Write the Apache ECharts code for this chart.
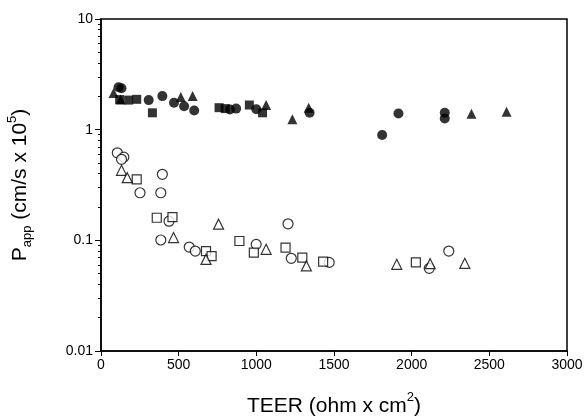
<!DOCTYPE html>
<html>
<head>
<meta charset="utf-8">
<script src="https://cdn.jsdelivr.net/npm/echarts@6/dist/echarts.min.js"></script>
<style>html,body{margin:0;padding:0;background:#fff}#c{width:588px;height:420px}</style>
</head>
<body>
<div id="c"></div>
<script>
var xTicks = [0, 500, 1000, 1500, 2000, 2500, 3000];
var yTicks = [0.01, 0.1, 1, 10];

var filledCircle = [[113,2.42],[132,2.37],[307,1.85],[395,2.01],[470,1.75],[535,1.63],[600,1.49],[830,1.52],[870,1.55],[1000,1.53],[1343,1.42],[1810,0.894],[1915,1.40],[2213,1.42],[2213,1.26]];
var filledSquare = [[120,1.87],[178,1.85],[230,1.88],[331,1.42],[760,1.58],[800,1.55],[955,1.67],[1040,1.42]];
var filledTriangle = [[81,2.14],[126,1.87],[514,1.97],[590,2.01],[1063,1.67],[1232,1.24],[1337,1.58],[2385,1.39],[2611,1.45]];
var openCircle = [[105,0.618],[147,0.565],[132,0.54],[395,0.395],[251,0.269],[385,0.269],[438,0.149],[1204,0.141],[385,0.1007],[568,0.0869],[607,0.080],[999,0.092],[1225,0.0688],[1469,0.0632],[2113,0.0558],[2239,0.080]];
var openSquare = [[230,0.356],[359,0.160],[460,0.162],[676,0.080],[712,0.072],[891,0.0986],[984,0.0773],[1188,0.0858],[1296,0.0698],[1430,0.0642],[2027,0.0632]];
var openTriangle = [[132,0.429],[169,0.368],[467,0.106],[757,0.140],[676,0.0673],[1063,0.0829],[1322,0.0587],[1904,0.0607],[2119,0.0615],[2342,0.062]];

var font = 'Liberation Sans, Arial, sans-serif';
function mk(data, sym, filled, size) {
  return {
    type: 'scatter', data: data, symbol: sym, symbolSize: size,
    itemStyle: filled ? {color: '#000'} : {color: '#fff', borderColor: '#000', borderWidth: 1.2},
    z: filled ? 3 : 2
  };
}
var chart = echarts.init(document.getElementById('c'), null, {renderer: 'canvas'});
chart.setOption({
  animation: false,
  backgroundColor: '#fff',
  grid: {left: 101, right: 21, top: 19, bottom: 69, show: true, borderColor: '#000', borderWidth: 1.5,
    containLabel: false, outerBoundsMode: 'none'},
  xAxis: {
    type: 'value', min: 0, max: 3000, interval: 500,
    axisLine: {show: true, onZero: false, lineStyle: {color: '#000', width: 1.5}},
    axisTick: {show: true, inside: false, length: 5, lineStyle: {color: '#000'}},
    axisLabel: {color: '#000', fontSize: 14, fontFamily: font, margin: 7,
      formatter: function(v){ return xTicks.indexOf(v) >= 0 ? String(v) : ''; }},
    splitLine: {show: false},
    name: '{a|TEER (ohm x cm}{s|2}{a|)}',
    nameLocation: 'middle', nameGap: 40,
    nameTextStyle: {rich: {
      a: {fontSize: 21, fontFamily: font, color: '#000', lineHeight: 26, verticalAlign: 'bottom'},
      s: {fontSize: 13, fontFamily: font, color: '#000', lineHeight: 26, verticalAlign: 'top', padding: [0,0,10,0]}
    }}
  },
  yAxis: {
    type: 'log', logBase: 10, min: 0.01, max: 10,
    axisLine: {show: true, onZero: false, lineStyle: {color: '#000', width: 1.5}},
    axisTick: {show: true, inside: false, length: 6, lineStyle: {color: '#000'}},
    minorTick: {show: true, splitNumber: 9, length: 3, lineStyle: {color: '#000'}},
    axisLabel: {color: '#000', fontSize: 14, fontFamily: font, margin: 8,
      formatter: function(v){
        for (var i = 0; i < yTicks.length; i++) if (Math.abs(v - yTicks[i]) / yTicks[i] < 1e-6) return String(yTicks[i]);
        return '';
      }},
    splitLine: {show: false},
    name: '{a|P}{b|app}{a| (cm/s x 10}{c|5}{a|)}',
    nameLocation: 'middle', nameGap: 67, nameRotate: 90,
    nameTextStyle: {rich: {
      a: {fontSize: 21, fontFamily: font, color: '#000', lineHeight: 28},
      b: {fontSize: 13, fontFamily: font, color: '#000', lineHeight: 14, verticalAlign: 'bottom'},
      c: {fontSize: 13, fontFamily: font, color: '#000', lineHeight: 14, verticalAlign: 'top'}
    }}
  },
  series: [
    mk(openCircle, 'circle', false, 10),
    mk(openSquare, 'rect', false, 9),
    mk(openTriangle, 'triangle', false, 10),
    mk(filledCircle, 'circle', true, 10),
    mk(filledSquare, 'rect', true, 9),
    mk(filledTriangle, 'triangle', true, 10)
  ]
});
</script>
</body>
</html>
